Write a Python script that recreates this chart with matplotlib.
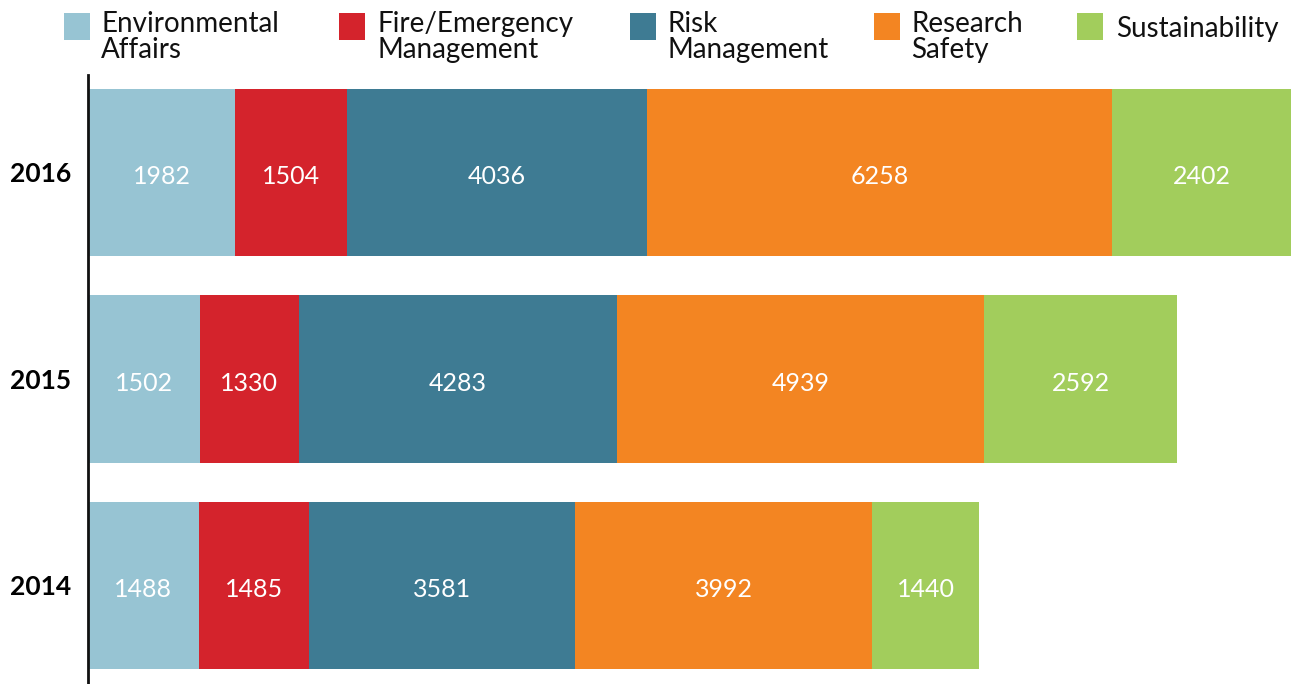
import matplotlib.pyplot as plt
from matplotlib.patches import Rectangle
import numpy as np

years = ["2014", "2015", "2016"]
categories = ["Environmental\nAffairs", "Fire/Emergency\nManagement", "Risk\nManagement",
              "Research\nSafety", "Sustainability"]
colors = ["#97C4D3", "#D4232C", "#3E7B93", "#F38522", "#A2CD5C"]

env_affairs = [1488, 1502, 1982]
fire_emergency = [1485, 1330, 1504]
risk_mgmt = [3581, 4283, 4036]
research_safety = [3992, 4939, 6258]
sustainability = [1440, 2592, 2402]

series = [env_affairs, fire_emergency, risk_mgmt, research_safety, sustainability]

W, H = 1291, 684
fig = plt.figure(figsize=(W / 100, H / 100), dpi=100)
font = ["Lato", "DejaVu Sans"]

# axes spans from the vertical line to the right edge
ax = fig.add_axes([88 / W, 0, 1 - 88 / W, (H - 75) / H])

y = np.arange(len(years))
left = np.zeros(len(years))
for vals, col in zip(series, colors):
    vals = np.array(vals)
    ax.barh(y, vals, left=left, height=0.81, color=col, edgecolor="none")
    for yi, (l, v) in enumerate(zip(left, vals)):
        ax.text(l + v / 2, yi - 0.02, str(v), ha="center", va="center",
                color="white", fontsize=18, family=font)
    left += vals

total_max = left.max()
ax.set_xlim(0, total_max)
ax.set_ylim(-0.477, 2.472)

for s in ["top", "right", "bottom"]:
    ax.spines[s].set_visible(False)
ax.spines["left"].set_linewidth(2)
ax.spines["left"].set_color("#111111")
ax.set_xticks([])
ax.set_yticks(y)
ax.set_yticklabels(years, fontsize=19, fontweight="bold", family=font)
ax.tick_params(axis="y", length=0, pad=12)

# legend across the top
sq_x = [64, 339, 630, 874, 1077]
txt_x = [101, 377, 667, 911, 1116]
for sx, tx, lab, col in zip(sq_x, txt_x, categories, colors):
    fig.add_artist(Rectangle((sx / W, 1 - 40 / H), 26 / W, 27 / H,
                             transform=fig.transFigure, color=col, lw=0))
    if "\n" in lab:
        fig.text(tx / W, 1 - 11 / H, lab, ha="left", va="top", fontsize=20,
                 family=font, linespacing=1.02, color="#111111")
    else:
        fig.text(tx / W, 1 - 29 / H, lab, ha="left", va="center", fontsize=20,
                 family=font, color="#111111")

fig.savefig("out.png", dpi=100)
